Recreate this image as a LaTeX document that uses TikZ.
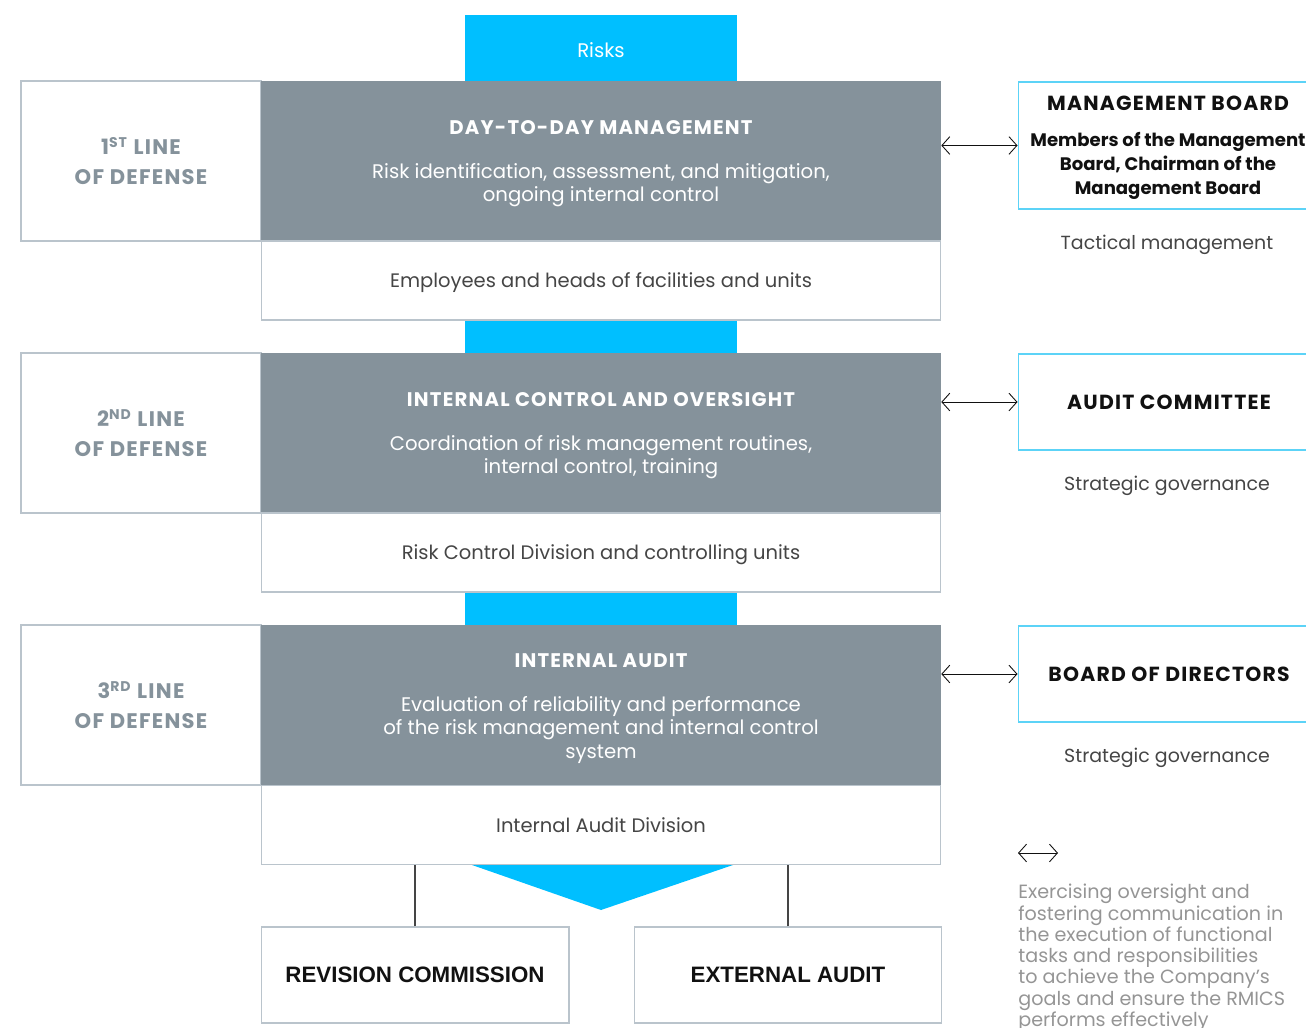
\documentclass[tikz,border=0pt]{standalone}
\usepackage{fontspec}
\setmainfont{Poppins}
\newfontfamily\headfont{Liberation Sans}
\newfontfamily\capsfont[LetterSpace=6]{Poppins}
\usetikzlibrary{arrows.meta,positioning}
\definecolor{riskblue}{HTML}{00BFFF}
\definecolor{slate}{HTML}{85929B}
\definecolor{edge}{HTML}{BAC4CC}
\definecolor{govline}{HTML}{5CD3F7}
\definecolor{ink}{HTML}{111111}
\definecolor{body}{HTML}{454545}
\definecolor{note}{HTML}{959595}
\newcommand\corehead[1]{{\capsfont\fontsize{11.2pt}{13pt}\selectfont\bfseries #1}}
\newcommand\govsub{\normalfont\bfseries\fontsize{10.3pt}{13.8pt}\selectfont}
\tikzset{
  lod/.style={draw=edge, fill=white, line width=0.6pt, inner sep=0pt,
    minimum width=4.8cm, minimum height=3.2cm, align=center, text=slate,
    font=\capsfont\fontsize{12pt}{17pt}\selectfont\bfseries},
  core/.style={fill=slate, inner sep=0pt, minimum width=13.6cm,
    minimum height=3.2cm},
  coretext/.style={align=center, text=white, inner sep=0pt,
    font=\fontsize{11.2pt}{13.6pt}\selectfont},
  staff/.style={draw=edge, fill=white, line width=0.6pt, inner sep=0pt,
    minimum width=13.6cm, minimum height=1.58cm, text=body, text depth=0pt,
    font=\fontsize{11.1pt}{13pt}\selectfont},
  gov/.style={draw=govline, fill=white, line width=0.6pt, inner sep=0pt,
    minimum width=6.04cm, align=center, text=ink,
    font=\capsfont\fontsize{11.6pt}{13.8pt}\selectfont\bfseries},
  remark/.style={text=body, font=\fontsize{10.8pt}{13pt}\selectfont},
  audit/.style={draw=edge, fill=white, line width=0.6pt, inner sep=0pt,
    minimum width=6.16cm, minimum height=1.92cm, text=ink,
    font=\headfont\fontsize{12.7pt}{14pt}\selectfont\bfseries},
  link/.style={draw=ink, line width=0.5pt,
    {Straight Barb[length=4.5pt,width=10pt]}-{Straight Barb[length=4.5pt,width=10pt]}},
  stem/.style={draw=body, line width=0.6pt},
}
\begin{document}
\begin{tikzpicture}[x=0.02cm, y=-0.02cm]
  \useasboundingbox (0,0) rectangle (1306,1028);
  % blue risk column and arrowhead
  \fill[riskblue] (465,15) rectangle (737,865);
  \fill[riskblue] (472,865) -- (733,865) -- (601,910) -- cycle;
  \node[text=white, font=\fontsize{11.2pt}{13pt}\selectfont] (risks) at (601,50) {Risks};

  % first line
  \node[lod] (lod1) at (141,161) {1\textsuperscript{ST} LINE\\OF DEFENSE};
  \node[core] (core1) at (601,161) {};
  \node[coretext] (core1txt) at (601,164)
    {\corehead{DAY-TO-DAY MANAGEMENT}\\[11pt]Risk identification, assessment, and mitigation,\\ongoing internal control};
  \node[staff] (staff1) at (601,280.5) {Employees and heads of facilities and units};

  % second line
  \node[lod] (lod2) at (141,433) {2\textsuperscript{ND} LINE\\OF DEFENSE};
  \node[core] (core2) at (601,433) {};
  \node[coretext] (core2txt) at (601,436)
    {\corehead{INTERNAL CONTROL AND OVERSIGHT}\\[11pt]Coordination of risk management routines,\\internal control, training};
  \node[staff] (staff2) at (601,552.5) {Risk Control Division and controlling units};

  % third line
  \node[lod] (lod3) at (141,705) {3\textsuperscript{RD} LINE\\OF DEFENSE};
  \node[core] (core3) at (601,705) {};
  \node[coretext] (core3txt) at (601,709)
    {\corehead{INTERNAL AUDIT}\\[11pt]Evaluation of reliability and performance\\of the risk management and internal control\\system};
  \node[staff] (staff3) at (601,825) {Internal Audit Division};

  % governing bodies
  \node[gov, minimum height=2.54cm] (gov1) at (1169,145.5) {};
  \node[gov, draw=none, fill=none, minimum width=0pt] (gov1txt) at (1168,148)
    {MANAGEMENT BOARD\\[6.5pt]{\govsub Members of the Management}\\
     {\govsub Board, Chairman of the}\\
     {\govsub Management Board}};
  \node[remark] (tac) at (1167,245) {Tactical management};
  \node[gov, minimum height=1.92cm] (gov2) at (1169,402) {AUDIT COMMITTEE};
  \node[remark] (str2) at (1167,486) {Strategic governance};
  \node[gov, minimum height=1.92cm] (gov3) at (1169,674) {BOARD OF DIRECTORS};
  \node[remark] (str3) at (1167,758) {Strategic governance};

  \draw[link] (core1.east |- gov1.west) -- (gov1.west);
  \draw[link] (core2.east |- gov2.west) -- (gov2.west);
  \draw[link] (core3.east |- gov3.west) -- (gov3.west);

  % external control
  \node[audit] (rev) at (415,975) {REVISION COMMISSION};
  \node[audit, minimum width=6.14cm] (ext) at (788,975) {EXTERNAL AUDIT};
  \draw[stem] (rev.north) -- (rev.north |- staff3.south);
  \draw[stem] (ext.north) -- (ext.north |- staff3.south);

  % legend
  \coordinate (keyl) at (1018,853);
  \coordinate (keyr) at (1058,853);
  \draw[link] (keyl) -- (keyr);
  \node[anchor=north west, inner sep=0pt, align=left, text=note,
    font=\fontsize{10.9pt}{12.1pt}\selectfont] (keytext) at (1018,884)
    {Exercising oversight and\\fostering communication in\\the execution of functional\\tasks and responsibilities\\to achieve the Company’s\\goals and ensure the RMICS\\performs effectively};
\end{tikzpicture}
\end{document}
